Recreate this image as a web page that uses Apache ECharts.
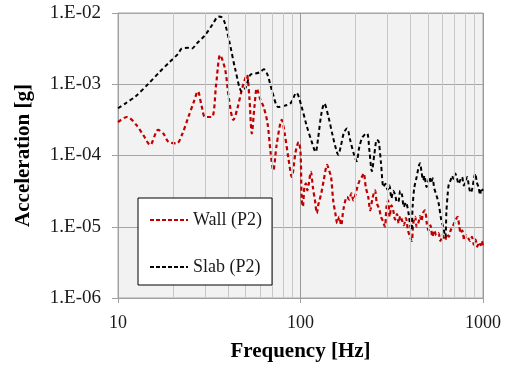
<!DOCTYPE html>
<html>
<head>
<meta charset="utf-8">
<script src="https://cdn.jsdelivr.net/npm/echarts@6/dist/echarts.min.js"></script>
<style>
  html, body { margin: 0; padding: 0; background: #fff; }
  #chart { width: 515px; height: 370px; }
</style>
</head>
<body>
<div id="chart"></div>
<script>
// frequency [Hz] / acceleration [g]
const wallFreq = [10, 11.2, 12.6, 13.8, 15, 16.6, 17.8, 18.9, 21, 22.5, 24.3, 26, 27.4, 28.7, 30, 32.7, 34.5, 36.3, 38.7, 40.5,
  42.9, 45, 48, 50.8, 52.5, 54.1, 56, 57.6, 60, 62.8, 66, 68.5, 71, 74, 79, 82, 86, 89.6, 94, 97.6,
  100, 101.5, 103, 105, 107, 109, 111, 114, 117, 120, 123, 125, 127, 130, 134, 140, 143, 147, 151, 155,
  159, 163, 167, 172, 180, 185, 190, 195, 200, 205, 211, 217, 222, 228, 235, 241, 248, 256, 262, 270,
  276, 283, 290, 296, 302, 308, 315, 322, 330, 338, 345, 352, 360, 368, 378, 388, 398, 407, 415, 425,
  433, 442, 452, 460, 470, 481, 492, 503, 515, 528, 540, 555, 570, 585, 600, 620, 635, 650, 665, 680,
  695, 710, 725, 740, 755, 770, 790, 810, 830, 850, 870, 890, 910, 930, 950, 970, 985, 1000];
const wallAcc = [2.95e-4, 3.47e-4, 2.69e-4, 1.91e-4, 1.41e-4, 2.29e-4, 2.0e-4, 1.55e-4, 1.48e-4, 2.0e-4, 3.47e-4, 5.62e-4, 7.94e-4, 5.01e-4, 3.47e-4, 3.47e-4, 1.0e-3, 2.57e-3, 1.58e-3, 6.31e-4,
  3.16e-4, 4.47e-4, 8.91e-4, 1.35e-3, 6.31e-4, 2.04e-4, 5.01e-4, 8.71e-4, 6.31e-4, 4.79e-4, 2.82e-4, 1.12e-4, 6.17e-5, 1.41e-4, 3.16e-4, 2.0e-4, 8.91e-5, 5.01e-5, 1.12e-4, 1.55e-4,
  1.12e-4, 2.51e-5, 1.91e-5, 3.55e-5, 4.07e-5, 3.24e-5, 3.98e-5, 5.89e-5, 3.55e-5, 2.34e-5, 1.55e-5, 2.0e-5, 2.34e-5, 2.95e-5, 4.47e-5, 7.41e-5, 6.31e-5, 5.01e-5, 2.34e-5, 1.58e-5,
  1.12e-5, 1.38e-5, 1.05e-5, 1.78e-5, 2.63e-5, 2.4e-5, 2.95e-5, 2.34e-5, 2.82e-5, 3.63e-5, 4.47e-5, 5.01e-5, 5.62e-5, 3.55e-5, 2.63e-5, 1.7e-5, 2.51e-5, 3.24e-5, 2.14e-5, 1.78e-5,
  1.38e-5, 1.2e-5, 1.0e-5, 1.91e-5, 2.34e-5, 1.38e-5, 2.0e-5, 1.7e-5, 1.26e-5, 1.51e-5, 1.12e-5, 1.41e-5, 1.23e-5, 1.05e-5, 1.32e-5, 8.91e-6, 7.24e-6, 6.31e-6, 1.12e-5, 1.38e-5,
  1.0e-5, 1.12e-5, 1.41e-5, 1.2e-5, 1.58e-5, 1.7e-5, 1.12e-5, 8.91e-6, 1.05e-5, 7.24e-6, 8.91e-6, 7.59e-6, 8.13e-6, 6.31e-6, 7.59e-6, 6.46e-6, 7.94e-6, 7.24e-6, 8.91e-6, 1.0e-5,
  1.12e-5, 1.26e-5, 1.38e-5, 1.05e-5, 8.13e-6, 8.91e-6, 6.46e-6, 7.59e-6, 6.92e-6, 6.31e-6, 7.24e-6, 5.62e-6, 6.61e-6, 5.25e-6, 6.03e-6, 5.5e-6, 6.31e-6, 5.25e-6];

const slabFreq = [10, 11, 12.5, 14.7, 17, 19, 21.4, 22.3, 24, 25.3, 27, 30, 33, 35.5, 37, 38.5, 41, 44, 47.7, 50,
  53, 56.5, 60, 63, 66, 70, 75.7, 82, 88, 95, 101, 108, 115, 121, 125, 130, 135, 142, 150, 157,
  161, 166, 173, 180, 187, 196, 203, 210, 218, 226, 232, 239, 246, 254, 262, 268, 276, 285, 292, 300,
  307, 315, 322, 330, 338, 345, 352, 360, 368, 378, 390, 398, 405, 412, 420, 433, 445, 452, 460, 470,
  478, 490, 500, 510, 520, 530, 540, 555, 572, 590, 605, 622, 630, 640, 650, 665, 676, 690, 705, 720,
  735, 750, 768, 785, 800, 818, 840, 855, 870, 890, 907, 925, 945, 965, 980, 1000];
const slabAcc = [4.6e-4, 5.4e-4, 6.8e-4, 1.02e-3, 1.51e-3, 2.0e-3, 2.69e-3, 3.16e-3, 3.24e-3, 3.16e-3, 3.72e-3, 4.9e-3, 6.92e-3, 8.91e-3, 8.71e-3, 7.24e-3, 3.72e-3, 1.58e-3, 7.94e-4, 8.91e-4,
  1.35e-3, 1.41e-3, 1.48e-3, 1.62e-3, 1.35e-3, 7.94e-4, 4.79e-4, 5.01e-4, 5.37e-4, 7.59e-4, 5.01e-4, 2.63e-4, 1.58e-4, 1.12e-4, 1.78e-4, 3.8e-4, 5.37e-4, 3.55e-4, 1.91e-4, 1.2e-4,
  1.02e-4, 1.32e-4, 2.09e-4, 2.4e-4, 1.66e-4, 1.05e-4, 8.3e-5, 1.32e-4, 1.78e-4, 2.0e-4, 2.04e-4, 1.12e-4, 6.0e-5, 1.05e-4, 1.66e-4, 1.58e-4, 7.9e-5, 3.6e-5, 4.0e-5, 3.3e-5,
  3.8e-5, 2.5e-5, 3.2e-5, 2.8e-5, 2.2e-5, 2.3e-5, 3.2e-5, 2.8e-5, 1.9e-5, 2.2e-5, 1.6e-5, 1.1e-5, 8.9e-6, 2.0e-5, 3.5e-5, 5.0e-5, 7.1e-5, 7.8e-5, 6.0e-5, 4.5e-5,
  5.2e-5, 3.6e-5, 4.2e-5, 5.0e-5, 4.1e-5, 4.8e-5, 3.5e-5, 2.8e-5, 2.1e-5, 1.26e-5, 1.0e-5, 7.2e-6, 1.6e-5, 2.8e-5, 4.0e-5, 4.5e-5, 5.2e-5, 4.7e-5, 5.6e-5, 4.8e-5,
  4.0e-5, 4.5e-5, 5.0e-5, 3.8e-5, 4.2e-5, 5.0e-5, 3.5e-5, 3.0e-5, 3.3e-5, 4.5e-5, 5.6e-5, 4.2e-5, 3.6e-5, 2.8e-5, 3.5e-5, 3.2e-5];

const xMinorGrid = [20, 30, 40, 50, 60, 70, 80, 90, 200, 300, 400, 500, 600, 700, 800, 900];

const serif = 'Liberation Serif, Times New Roman, serif';
// dashed legend sample, 38 x 2
const dashIcon = 'path://M0,0h4v2h-4z M6,0h4v2h-4z M12,0h4v2h-4z M18,0h4v2h-4z M24,0h4v2h-4z M30,0h4v2h-4z M36,0h2v2h-2z';

const chart = echarts.init(document.getElementById('chart'), null, { renderer: 'canvas' });

const option = {
  animation: false,
  backgroundColor: '#fff',
  grid: {
    left: 118,
    right: 32,
    top: 13,
    bottom: 72,
    show: true,
    backgroundColor: '#f2f2f2',
    borderColor: '#a6a6a6',
    borderWidth: 1
  },
  legend: {
    z: 20,
    orient: 'vertical',
    left: 138,
    top: 198,
    backgroundColor: '#fff',
    borderColor: '#000',
    borderWidth: 1,
    padding: [13, 10, 9, 12],
    itemGap: 29,
    itemWidth: 38,
    itemHeight: 2,
    textStyle: { fontFamily: serif, fontSize: 18, color: '#1a1a1a' },
    data: [
      { name: 'Wall (P2)', icon: dashIcon },
      { name: 'Slab (P2)', icon: dashIcon }
    ]
  },
  xAxis: {
    type: 'log',
    logBase: 10,
    min: 10,
    max: 1000,
    name: 'Frequency [Hz]',
    nameLocation: 'middle',
    nameGap: 43,
    nameTextStyle: { fontFamily: serif, fontSize: 21, fontWeight: 'bold', color: '#000' },
    axisLine: { show: true, lineStyle: { color: '#a0a0a0', width: 1 } },
    axisTick: { show: true, inside: false, length: 5, lineStyle: { color: '#a0a0a0' } },
    axisLabel: {
      margin: 16,
      fontFamily: serif,
      fontSize: 18,
      color: '#1a1a1a',
      formatter: v => String(Math.round(v))
    },
    splitLine: { show: true, lineStyle: { color: '#999', width: 1 } }
  },
  yAxis: {
    type: 'log',
    logBase: 10,
    min: 1e-6,
    max: 1e-2,
    name: 'Acceleration [g]',
    nameLocation: 'middle',
    nameGap: 84,
    nameTextStyle: { fontFamily: serif, fontSize: 21, fontWeight: 'bold', color: '#000' },
    axisLine: { show: true, lineStyle: { color: '#a0a0a0', width: 1 } },
    axisTick: { show: true, inside: false, length: 6, lineStyle: { color: '#a0a0a0' } },
    axisLabel: {
      margin: 17,
      fontFamily: serif,
      fontSize: 19,
      color: '#1a1a1a',
      formatter: v => {
        const e = Math.round(Math.log10(v));
        return '1.E' + (e < 0 ? '-' : '+') + String(Math.abs(e)).padStart(2, '0');
      }
    },
    splitLine: { show: true, lineStyle: { color: '#a6a6a6', width: 1 } }
  },
  series: [
    {
      // minor vertical grid lines (2..9 x decade)
      name: 'minorGrid',
      type: 'line',
      data: [],
      silent: true,
      z: 1,
      markLine: {
        silent: true,
        symbol: ['none', 'none'],
        label: { show: false },
        lineStyle: { color: '#c8c8c8', width: 1, type: 'solid' },
        data: xMinorGrid.map(v => ({ xAxis: v }))
      }
    },
    {
      name: 'Wall (P2)',
      type: 'line',
      data: wallFreq.map((f, i) => [f, wallAcc[i]]),
      showSymbol: false,
      symbol: 'none',
      smooth: 0.3,
      color: '#c00000',
      lineStyle: { color: '#c00000', width: 2.2, type: [4, 3] },
      z: 3
    },
    {
      name: 'Slab (P2)',
      type: 'line',
      data: slabFreq.map((f, i) => [f, slabAcc[i]]),
      showSymbol: false,
      symbol: 'none',
      smooth: 0.3,
      color: '#000',
      lineStyle: { color: '#000', width: 2, type: [4, 3] },
      z: 4
    }
  ]
};

chart.setOption(option);
</script>
</body>
</html>
